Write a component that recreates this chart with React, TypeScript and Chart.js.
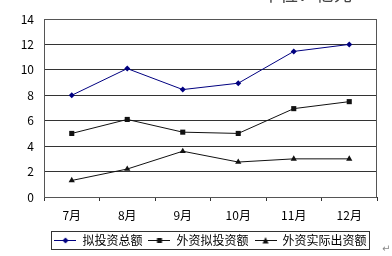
import React, { useEffect, useRef } from "react";
import { Chart, registerables } from "chart.js";

Chart.register(...registerables);

const categories = ["7月", "8月", "9月", "10月", "11月", "12月"];
const totalPlanned = [8.0, 10.1, 8.45, 8.95, 11.45, 12.0];
const foreignPlanned = [5.0, 6.1, 5.1, 5.0, 6.95, 7.5];
const foreignActual = [1.3, 2.2, 3.6, 2.75, 3.0, 3.0];
const seriesNames = ["拟投资总额", "外资拟投资额", "外资实际出资额"];
const yTicks = [0, 2, 4, 6, 8, 10, 12, 14];
const unitText = "单位：亿元";

const FONT = "'Noto Sans CJK SC', 'DejaVu Sans', sans-serif";

function legendSymbol(color: string, style: string): HTMLCanvasElement {
  const c = document.createElement("canvas");
  c.width = 22;
  c.height = 10;
  const ctx = c.getContext("2d")!;
  ctx.strokeStyle = color;
  ctx.fillStyle = color;
  ctx.lineWidth = 1;
  ctx.beginPath();
  ctx.moveTo(0, 5.5);
  ctx.lineTo(22, 5.5);
  ctx.stroke();
  ctx.beginPath();
  if (style === "diamond") {
    ctx.moveTo(11, 2.5);
    ctx.lineTo(14, 5.5);
    ctx.lineTo(11, 8.5);
    ctx.lineTo(8, 5.5);
  } else if (style === "square") {
    ctx.rect(8.5, 3, 5, 5);
  } else {
    ctx.moveTo(11, 2);
    ctx.lineTo(14, 8.5);
    ctx.lineTo(8, 8.5);
  }
  ctx.closePath();
  ctx.fill();
  return c;
}

export default function App() {
  const ref = useRef<HTMLCanvasElement>(null);

  useEffect(() => {
    if (!ref.current) return;
    const colors = ["#000080", "#111111", "#111111"];
    const styles = ["diamond", "square", "triangle"];
    const symbols = colors.map((c, i) => legendSymbol(c, styles[i]));

    const framePlugin = {
      id: "frame",
      afterDraw(chart: any) {
        const { ctx, chartArea } = chart;
        ctx.save();
        ctx.strokeStyle = "#555555";
        ctx.lineWidth = 1;
        ctx.strokeRect(
          Math.round(chartArea.left) + 0.5,
          Math.round(chartArea.top) + 0.5,
          Math.round(chartArea.right - chartArea.left) - 1,
          Math.round(chartArea.bottom - chartArea.top)
        );
        const boxes = chart.legend?.legendHitBoxes || [];
        if (boxes.length) {
          const l = Math.min(...boxes.map((b: any) => b.left)) - 3;
          const r = Math.max(...boxes.map((b: any) => b.left + b.width)) + 3;
          const cy = boxes[0].top + boxes[0].height / 2;
          ctx.strokeStyle = "#333333";
          ctx.strokeRect(Math.round(l) + 0.5, Math.round(cy - 9) + 0.5, Math.round(r - l), 18);
        }
        ctx.fillStyle = "#444444";
        ctx.font = `18px ${FONT}`;
        ctx.textBaseline = "alphabetic";
        ctx.textAlign = "left";
        ctx.fillText(unitText, 262, 1);
        ctx.fillStyle = "#888888";
        ctx.font = `10px ${FONT}`;
        ctx.fillText("↵", 382, 252);
        ctx.restore();
      },
    };

    const chart = new Chart(ref.current, {
      type: "line",
      data: {
        labels: categories,
        datasets: [
          {
            label: seriesNames[0],
            data: totalPlanned,
            borderColor: colors[0],
            backgroundColor: colors[0],
            borderWidth: 1,
            pointStyle: "rectRot",
            pointRadius: 3,
            pointBorderWidth: 0,
          },
          {
            label: seriesNames[1],
            data: foreignPlanned,
            borderColor: colors[1],
            backgroundColor: colors[1],
            borderWidth: 1,
            pointStyle: "rect",
            pointRadius: 3.6,
            pointBorderWidth: 0,
          },
          {
            label: seriesNames[2],
            data: foreignActual,
            borderColor: colors[2],
            backgroundColor: colors[2],
            borderWidth: 1,
            pointStyle: "triangle",
            pointRadius: 3.6,
            pointBorderWidth: 0,
          },
        ],
      },
      options: {
        animation: false,
        responsive: false,
        devicePixelRatio: 1,
        layout: { padding: { left: 0, right: 15, top: 19, bottom: 0 } },
        plugins: {
          title: { display: false },
          tooltip: { enabled: false },
          legend: {
            position: "bottom",
            fullSize: false,
            labels: {
              usePointStyle: true,
              pointStyleWidth: 22,
              padding: 6,
              color: "#000000",
              font: { family: FONT, size: 12 },
              generateLabels: (ch: any) =>
                ch.data.datasets.map((ds: any, i: number) => ({
                  text: ds.label,
                  pointStyle: symbols[i],
                  fillStyle: colors[i],
                  strokeStyle: colors[i],
                  lineWidth: 0,
                  fontColor: "#000000",
                  hidden: false,
                  datasetIndex: i,
                })),
            },
          },
        },
        scales: {
          x: {
            type: "category",
            offset: true,
            grid: {
              display: true,
              drawOnChartArea: false,
              drawTicks: true,
              tickLength: 4,
              color: "#333333",
              offset: true,
            },
            border: { display: false },
            ticks: {
              color: "#000000",
              padding: 7,
              font: { family: FONT, size: 12 },
              maxRotation: 0,
            },
            afterFit: (s: any) => {
              s.height = 31;
            },
          },
          y: {
            min: 0,
            max: 14,
            afterBuildTicks: (s: any) => {
              s.ticks = yTicks.map((v) => ({ value: v }));
            },
            grid: { color: "#333333", drawTicks: false, lineWidth: 1 },
            border: { display: false },
            ticks: {
              color: "#000000",
              padding: 10,
              font: { family: FONT, size: 12 },
            },
            afterFit: (s: any) => {
              s.width = 44;
            },
          },
        },
      },
      plugins: [framePlugin],
    });
    return () => chart.destroy();
  }, []);

  return (
    <div style={{ position: "fixed", left: 0, top: 0, width: 392, height: 256, background: "#ffffff" }}>
      <canvas ref={ref} width={392} height={256} style={{ display: "block" }} />
    </div>
  );
}
